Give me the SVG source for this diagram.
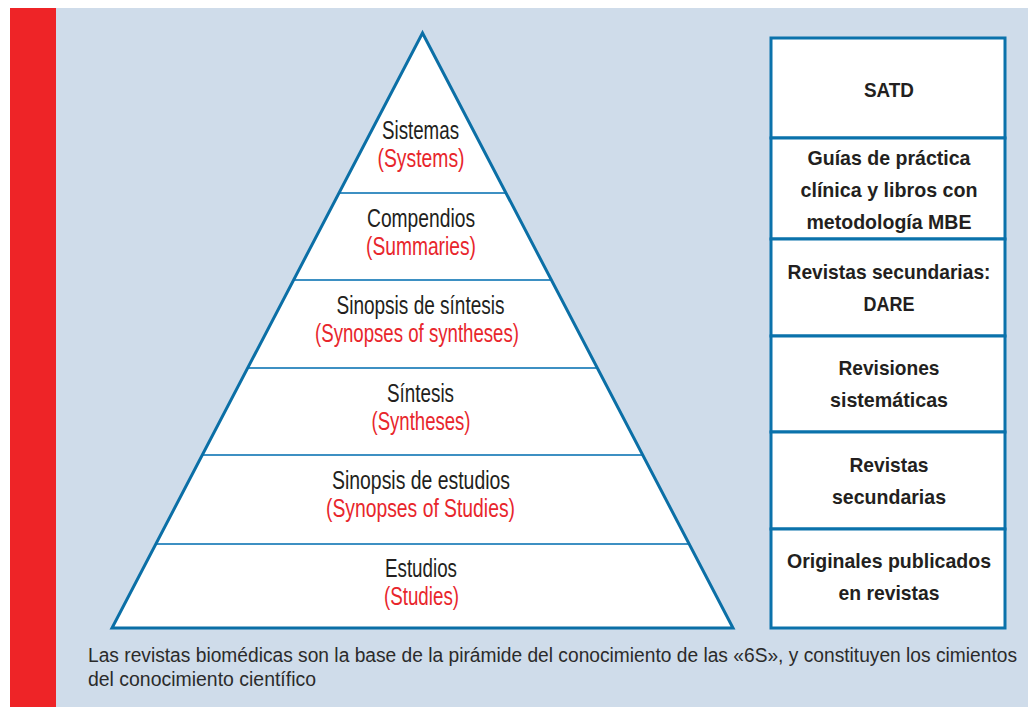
<svg xmlns="http://www.w3.org/2000/svg" width="1028" height="707" viewBox="0 0 1028 707">
<style>
.lvl{font-family:"Liberation Sans",Arial,sans-serif;font-size:25px;text-anchor:middle;fill:#231f20}
.en{fill:#e8262c}
.box{fill:#ffffff;stroke:#0b72ab;stroke-width:3}
.bt{font-family:"Liberation Sans",Arial,sans-serif;font-size:21px;font-weight:bold;text-anchor:middle;fill:#231f20}
.sep{stroke:#3d90c3;stroke-width:2}
.cap{font-family:"Liberation Sans",Arial,sans-serif;font-size:20px;fill:#2b2b2b}
</style>
<rect x="0" y="0" width="1028" height="707" fill="#ffffff"/>
<rect x="56" y="8" width="972" height="699" fill="#cfdcea"/>
<rect x="10" y="8" width="46" height="699" fill="#ee2427"/>
<g id="pyramid">
<polygon points="422.5,33 733,628 112,628" fill="#ffffff"/>
<line class="sep" x1="339" y1="193" x2="506" y2="193"/>
<line class="sep" x1="293.6" y1="280" x2="551.4" y2="280"/>
<line class="sep" x1="247.7" y1="368" x2="597.3" y2="368"/>
<line class="sep" x1="202.3" y1="455" x2="642.7" y2="455"/>
<line class="sep" x1="155.9" y1="544" x2="689.1" y2="544"/>
<polygon points="422.5,33 733,628 112,628" fill="none" stroke="#0b6fa6" stroke-width="3" stroke-linejoin="miter"/>
</g>
<g id="lvl-systems"><text class="lvl" x="420.5" y="139" textLength="77" lengthAdjust="spacingAndGlyphs">Sistemas</text><text class="lvl en" x="421" y="167" textLength="87" lengthAdjust="spacingAndGlyphs">(Systems)</text></g>
<g id="lvl-summaries"><text class="lvl" x="421" y="227" textLength="108" lengthAdjust="spacingAndGlyphs">Compendios</text><text class="lvl en" x="421" y="255" textLength="110" lengthAdjust="spacingAndGlyphs">(Summaries)</text></g>
<g id="lvl-synopses-syntheses"><text class="lvl" x="420.5" y="314" textLength="168" lengthAdjust="spacingAndGlyphs">Sinopsis de síntesis</text><text class="lvl en" x="417" y="342" textLength="204" lengthAdjust="spacingAndGlyphs">(Synopses of syntheses)</text></g>
<g id="lvl-syntheses"><text class="lvl" x="420.5" y="402" textLength="67" lengthAdjust="spacingAndGlyphs">Síntesis</text><text class="lvl en" x="421" y="430" textLength="99" lengthAdjust="spacingAndGlyphs">(Syntheses)</text></g>
<g id="lvl-synopses-studies"><text class="lvl" x="421" y="489" textLength="178" lengthAdjust="spacingAndGlyphs">Sinopsis de estudios</text><text class="lvl en" x="420.5" y="517" textLength="189" lengthAdjust="spacingAndGlyphs">(Synopses of Studies)</text></g>
<g id="lvl-studies"><text class="lvl" x="421" y="577" textLength="72" lengthAdjust="spacingAndGlyphs">Estudios</text><text class="lvl en" x="421.5" y="605" textLength="75" lengthAdjust="spacingAndGlyphs">(Studies)</text></g>
<g id="box-satd"><rect class="box" x="771" y="38" width="234" height="100"/><text class="bt" x="889" y="97" textLength="50" lengthAdjust="spacingAndGlyphs">SATD</text></g>
<g id="box-guias"><rect class="box" x="771" y="138" width="234" height="101"/><text class="bt" x="889" y="165" textLength="163" lengthAdjust="spacingAndGlyphs">Guías de práctica</text><text class="bt" x="889" y="197" textLength="177" lengthAdjust="spacingAndGlyphs">clínica y libros con</text><text class="bt" x="889" y="229" textLength="165" lengthAdjust="spacingAndGlyphs">metodología MBE</text></g>
<g id="box-dare"><rect class="box" x="771" y="239" width="234" height="97"/><text class="bt" x="889" y="279" textLength="203" lengthAdjust="spacingAndGlyphs">Revistas secundarias:</text><text class="bt" x="889" y="311" textLength="51" lengthAdjust="spacingAndGlyphs">DARE</text></g>
<g id="box-revisiones"><rect class="box" x="771" y="336" width="234" height="96"/><text class="bt" x="889" y="375" textLength="101" lengthAdjust="spacingAndGlyphs">Revisiones</text><text class="bt" x="889" y="407" textLength="118" lengthAdjust="spacingAndGlyphs">sistemáticas</text></g>
<g id="box-secundarias"><rect class="box" x="771" y="432" width="234" height="97"/><text class="bt" x="889" y="472" textLength="79" lengthAdjust="spacingAndGlyphs">Revistas</text><text class="bt" x="889" y="504" textLength="114" lengthAdjust="spacingAndGlyphs">secundarias</text></g>
<g id="box-originales"><rect class="box" x="771" y="529" width="234" height="99"/><text class="bt" x="889" y="568" textLength="204" lengthAdjust="spacingAndGlyphs">Originales publicados</text><text class="bt" x="889" y="600" textLength="101" lengthAdjust="spacingAndGlyphs">en revistas</text></g>
<g id="connectors"></g>
<g id="caption"><text class="cap" x="88" y="662" textLength="929" lengthAdjust="spacingAndGlyphs">Las revistas biomédicas son la base de la pirámide del conocimiento de las «6S», y constituyen los cimientos</text><text class="cap" x="88" y="686" textLength="228" lengthAdjust="spacingAndGlyphs">del conocimiento científico</text></g>
</svg>
